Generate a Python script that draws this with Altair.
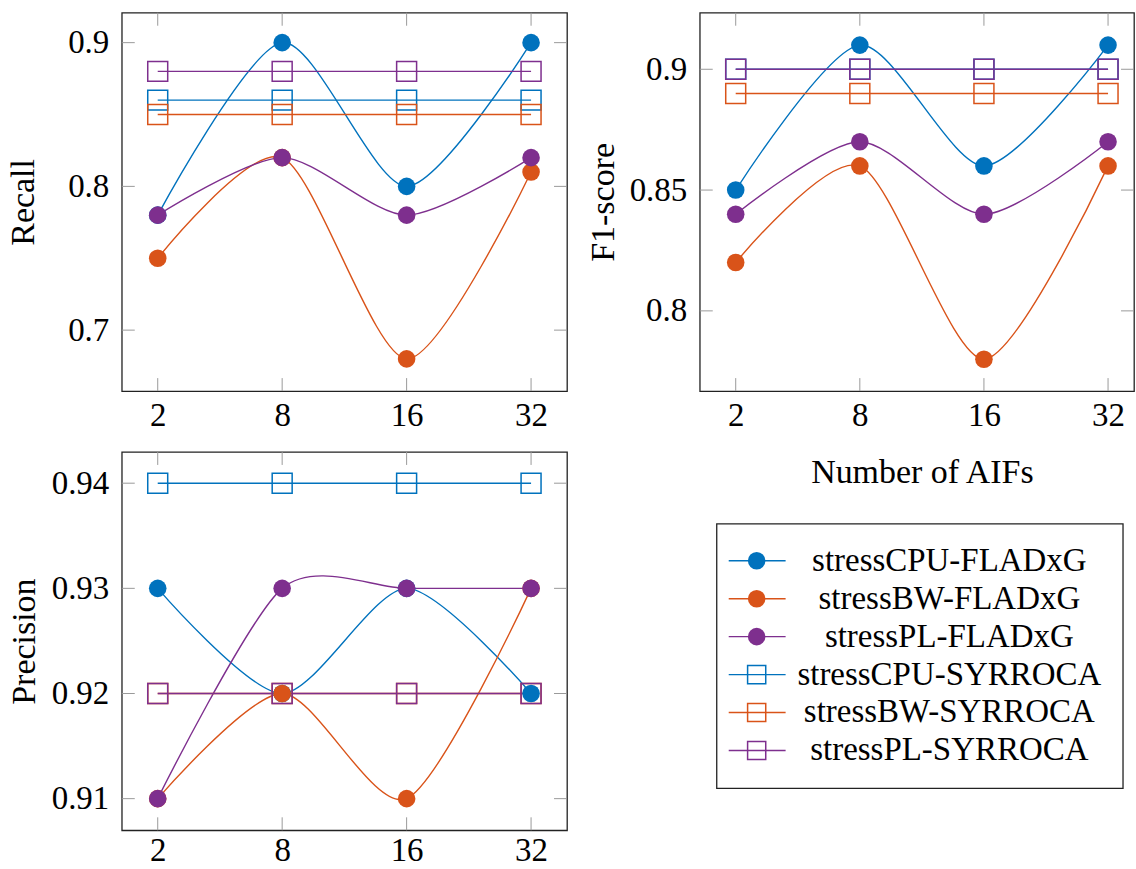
import altair as alt
import pandas as pd

# ---------------- data ----------------
x_labels = ["2", "8", "16", "32"]
series_names = [
    "stressCPU-FLADxG",
    "stressBW-FLADxG",
    "stressPL-FLADxG",
    "stressCPU-SYRROCA",
    "stressBW-SYRROCA",
    "stressPL-SYRROCA",
]
series_family = ["FLADxG", "FLADxG", "FLADxG", "SYRROCA", "SYRROCA", "SYRROCA"]
series_colors = ["#0072BD", "#D95319", "#7E2F8E", "#0072BD", "#D95319", "#7E2F8E"]

recall_values = [
    [0.78, 0.90, 0.80, 0.90],
    [0.75, 0.82, 0.68, 0.81],
    [0.78, 0.82, 0.78, 0.82],
    [0.86, 0.86, 0.86, 0.86],
    [0.85, 0.85, 0.85, 0.85],
    [0.88, 0.88, 0.88, 0.88],
]
f1_values = [
    [0.85, 0.91, 0.86, 0.91],
    [0.82, 0.86, 0.78, 0.86],
    [0.84, 0.87, 0.84, 0.87],
    [0.90, 0.90, 0.90, 0.90],
    [0.89, 0.89, 0.89, 0.89],
    [0.90, 0.90, 0.90, 0.90],
]
precision_values = [
    [0.93, 0.92, 0.93, 0.92],
    [0.91, 0.92, 0.91, 0.93],
    [0.91, 0.93, 0.93, 0.93],
    [0.94, 0.94, 0.94, 0.94],
    [0.92, 0.92, 0.92, 0.92],
    [0.92, 0.92, 0.92, 0.92],
]

recall_ticks = [0.7, 0.8, 0.9]
f1_ticks = [0.8, 0.85, 0.9]
precision_ticks = [0.91, 0.92, 0.93, 0.94]

recall_domain = [0.6576, 0.9208]
f1_domain = [0.7668, 0.9234]
precision_domain = [0.90699, 0.94297]

# ---------------- style ----------------
FONT = "Liberation Serif"
TICK_COLOR = "#9a9a9a"
TICK_LEN = 13
LABEL_SIZE = 33
TITLE_SIZE = 34
color_scale = alt.Scale(domain=series_names, range=series_colors)


def long_table(values):
    rows = []
    for k, (name, fam, vals) in enumerate(zip(series_names, series_family, values)):
        for i, (x, v) in enumerate(zip(x_labels, vals)):
            rows.append({"series": name, "family": fam, "order": k,
                         "x": x, "xi": i, "value": v})
    return pd.DataFrame(rows)


def panel(values, domain, ticks, ytitle, width, height, x_range, title_pad,
          xtitle=None, xlabel_pad=8):
    df = long_table(values)
    xscale = alt.Scale(type="point", domain=x_labels, range=x_range, padding=0)
    yscale = alt.Scale(domain=domain, nice=False, zero=False)

    if xtitle:
        X = alt.X("x:N", scale=xscale, sort=x_labels, title=xtitle,
                  axis=alt.Axis(labelAngle=0, labelPadding=xlabel_pad, titlePadding=24))
    else:
        X = alt.X("x:N", scale=xscale, sort=x_labels, title=None,
                  axis=alt.Axis(labelAngle=0, labelPadding=xlabel_pad))
    Y = alt.Y("value:Q", scale=yscale, title=ytitle,
              axis=alt.Axis(values=ticks, format=".2~f", labelPadding=13,
                            titlePadding=title_pad))
    C = alt.Color("series:N", scale=color_scale, legend=None)

    xt = pd.DataFrame({"x": x_labels})
    yt = pd.DataFrame({"value": ticks})
    tick = dict(color=TICK_COLOR, strokeWidth=1)

    lines = alt.Chart(df).mark_line(
        interpolate="cardinal", tension=0.2, strokeWidth=1.4
    ).encode(x=X, y=Y, color=C, detail="series:N", order=alt.Order("xi:Q"))

    squares = alt.Chart(df[df["family"] == "SYRROCA"]).mark_point(
        shape="square", filled=False, size=400, strokeWidth=1.5, opacity=1
    ).encode(x=X, y=Y, color=C)

    circles = alt.Chart(df[df["family"] == "FLADxG"]).mark_point(
        shape="circle", filled=True, size=310, opacity=1
    ).encode(x=X, y=Y, color=C)

    t_top = alt.Chart(xt).mark_rule(**tick).encode(
        x=X, y=alt.value(0), y2=alt.value(TICK_LEN))
    t_bot = alt.Chart(xt).mark_rule(**tick).encode(
        x=X, y=alt.value(height - TICK_LEN), y2=alt.value(height))
    t_left = alt.Chart(yt).mark_rule(**tick).encode(
        y=Y, x=alt.value(0), x2=alt.value(TICK_LEN))
    t_right = alt.Chart(yt).mark_rule(**tick).encode(
        y=Y, x=alt.value(width - TICK_LEN), x2=alt.value(width))

    return alt.layer(lines, t_top, t_bot, t_left, t_right, squares, circles).properties(
        width=width, height=height)


H = 379
recall_panel = panel(recall_values, recall_domain, recall_ticks, "Recall",
                     446, H, [36, 410], 27)
f1_panel = panel(f1_values, f1_domain, f1_ticks, "F1-score",
                 435, H, [36, 409], 9, xtitle="Number of AIFs")
precision_panel = panel(precision_values, precision_domain, precision_ticks,
                        "Precision", 446, H, [36, 410], 10, xlabel_pad=4)

# ---------------- legend panel ----------------
leg_df = pd.DataFrame({"series": series_names, "family": series_family})
LW = 435
ys = alt.Scale(type="point", domain=series_names, range=[109, 299], padding=0)
LY = alt.Y("series:N", scale=ys, axis=None)
LC = alt.Color("series:N", scale=color_scale, legend=None)

box = alt.Chart(pd.DataFrame({"a": [0]})).mark_rect(
    fillOpacity=0, stroke="#222222", strokeWidth=1.3
).encode(x=alt.value(17), x2=alt.value(424), y=alt.value(72), y2=alt.value(337))
leg_lines = alt.Chart(leg_df).mark_rule(strokeWidth=1.4).encode(
    y=LY, x=alt.value(29), x2=alt.value(86), color=LC)
leg_circles = alt.Chart(leg_df[leg_df["family"] == "FLADxG"]).mark_point(
    shape="circle", filled=True, size=310, opacity=1
).encode(y=LY, x=alt.value(57), color=LC)
leg_squares = alt.Chart(leg_df[leg_df["family"] == "SYRROCA"]).mark_point(
    shape="square", filled=False, size=330, strokeWidth=1.5, opacity=1
).encode(y=LY, x=alt.value(57), color=LC)
leg_text = alt.Chart(leg_df).mark_text(
    font=FONT, fontSize=LABEL_SIZE, align="center", baseline="middle", color="black"
).encode(y=LY, x=alt.value(250), text="series:N")

legend_panel = alt.layer(box, leg_lines, leg_circles, leg_squares, leg_text).properties(
    width=LW, height=H, view=alt.ViewBackground(stroke="transparent"))

# ---------------- layout ----------------
chart = alt.concat(
    recall_panel, f1_panel, precision_panel, legend_panel,
    columns=2, spacing=alt.RowColnumber(row=61, column=133), bounds="flush"
).properties(
    padding={"left": 6, "top": 10, "right": 0, "bottom": 0}
).configure_view(
    stroke="#222222", strokeWidth=1.3
).configure_axis(
    labelFont=FONT, titleFont=FONT, labelFontSize=LABEL_SIZE, titleFontSize=TITLE_SIZE,
    labelColor="black", titleColor="black", titleFontWeight="normal",
    grid=False, ticks=False, domain=False
)

chart.save("out.html", embed_options={"renderer": "svg", "actions": False})
